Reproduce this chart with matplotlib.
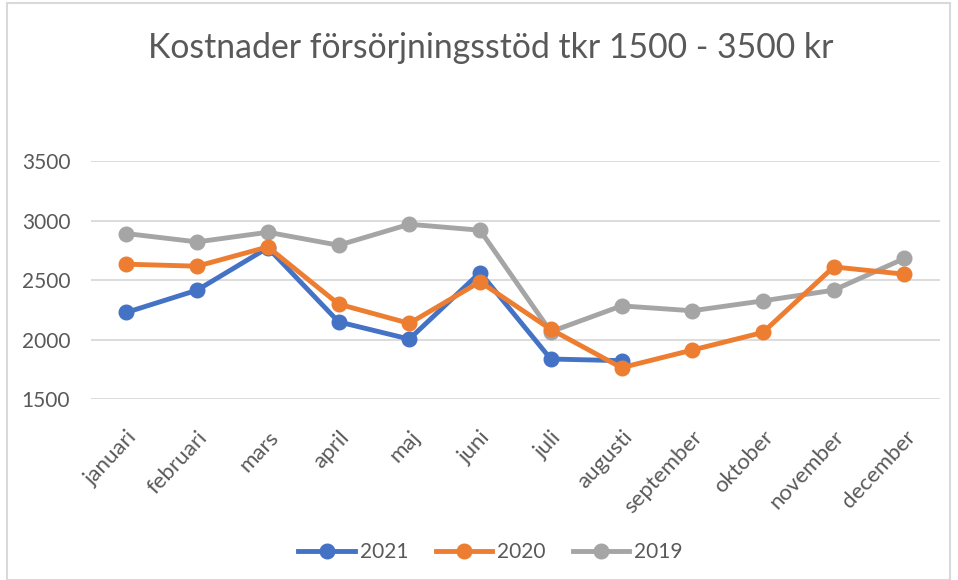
import matplotlib.pyplot as plt
from matplotlib.patches import Rectangle

months = ['januari', 'februari', 'mars', 'april', 'maj', 'juni', 'juli',
          'augusti', 'september', 'oktober', 'november', 'december']
s2021 = [2229, 2416, 2772, 2150, 2005, 2564, 1838, 1824]
s2020 = [2634, 2617, 2779, 2299, 2137, 2486, 2087, 1765, 1913, 2061, 2611, 2550]
s2019 = [2891, 2821, 2902, 2793, 2969, 2919, 2067, 2284, 2243, 2326, 2416, 2682]
yticks = [1500, 2000, 2500, 3000, 3500]

plt.rcParams['font.family'] = ['Lato', 'DejaVu Sans']
txt = '#595959'

fig = plt.figure(figsize=(9.58, 5.8), dpi=100)
ax = fig.add_axes([0.095, 0.3116, 0.886, 0.4108])

x = list(range(len(months)))
ax.plot(x[:len(s2021)], s2021, color='#4472C4', lw=3.5, marker='o', ms=10.5, label='2021', zorder=3)
ax.plot(x, s2020, color='#ED7D31', lw=3.5, marker='o', ms=10.5, label='2020', zorder=4)
ax.plot(x, s2019, color='#A5A5A5', lw=3.5, marker='o', ms=10.5, label='2019', zorder=2)

ax.set_xlim(-0.5, 11.5)
ax.set_ylim(1500, 3500)
ax.set_yticks(yticks)
ax.set_yticklabels([str(v) for v in yticks], fontsize=15, color=txt)
ax.set_xticks(x)
ax.set_xticklabels(months, rotation=47, ha='right', rotation_mode='anchor', fontsize=16, color=txt)
ax.tick_params(axis='y', length=0, pad=15)
ax.tick_params(axis='x', length=0, pad=20)
ax.grid(axis='y', color='#d9d9d9', lw=1.3)
ax.set_axisbelow(True)
for s in ax.spines.values():
    s.set_visible(False)

fig.text(0.512, 0.917, 'Kostnader försörjningsstöd tkr 1500 - 3500 kr', ha='center', va='center',
         fontsize=24.3, color=txt)

leg = fig.legend(loc='center', bbox_to_anchor=(0.512, 0.048), ncol=3, frameon=False,
                 fontsize=15, handlelength=2.7, columnspacing=1.3, handletextpad=0.25)
for t in leg.get_texts():
    t.set_color(txt)

fig.patches.append(Rectangle((0.007, 0.0), 0.985, 0.995, transform=fig.transFigure,
                             fill=False, edgecolor='#d9d9d9', lw=1.5))

fig.savefig('out.png', dpi=100)
